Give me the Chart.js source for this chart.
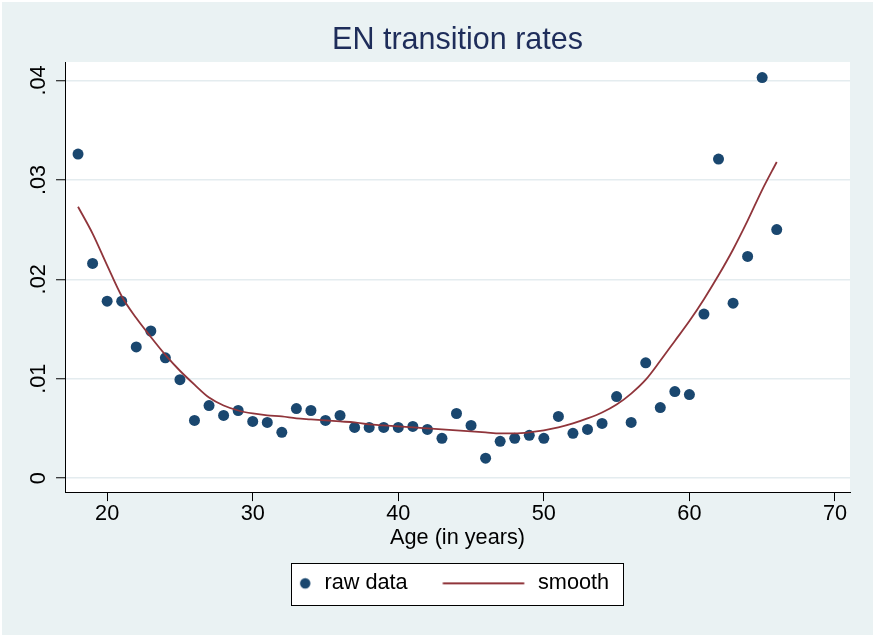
<!DOCTYPE html>
<html>
<head>
<meta charset="utf-8">
<script src="https://cdn.jsdelivr.net/npm/chart.js@4.4.1/dist/chart.umd.min.js"></script>
<style>
html, body { margin: 0; padding: 0; background: #ffffff; }
#wrap { position: absolute; left: 2px; top: 2px; width: 871px; height: 633px; }
</style>
</head>
<body>
<div id="wrap"><canvas id="c" width="871" height="633"></canvas></div>
<script>
// ---------------- data ----------------
const ages = [18,19,20,21,22,23,24,25,26,27,28,29,30,31,32,33,34,35,36,37,38,39,40,41,42,
              43,44,45,46,47,48,49,50,51,52,53,54,55,56,57,58,59,60,61,62,63,64,65,66];
const rawRates = [0.0326,0.0216,0.0178,0.0178,0.0132,0.0148,0.0121,0.0099,0.0058,0.0073,
                  0.0063,0.0068,0.0057,0.0056,0.0046,0.0070,0.0068,0.0058,0.0063,0.0051,
                  0.0051,0.0051,0.0051,0.0052,0.0049,0.0040,0.0065,0.0053,0.0020,0.0037,
                  0.0040,0.0043,0.0040,0.0062,0.0045,0.0049,0.0055,0.0082,0.0056,0.0116,
                  0.0071,0.0087,0.0084,0.0165,0.0321,0.0176,0.0223,0.0403,0.0250];
const smoothRates = [0.0273,0.0246,0.0214,0.0183,0.0161,0.0142,0.0124,0.0108,0.0094,0.0081,
                     0.0073,0.0068,0.0065,0.0063,0.0062,0.0060,0.0059,0.0058,0.0057,0.0056,
                     0.0054,0.0053,0.0052,0.0051,0.0050,0.0049,0.0048,0.0047,0.0046,0.0045,
                     0.0045,0.0046,0.0048,0.0051,0.0055,0.0060,0.0066,0.0074,0.0085,0.0099,
                     0.0118,0.0138,0.0158,0.0180,0.0204,0.0230,0.0259,0.0290,0.0318];
const xTickValues = [20, 30, 40, 50, 60, 70];
const yTickValues = [0, 0.01, 0.02, 0.03, 0.04];
const yTickLabels = ['0', '.01', '.02', '.03', '.04'];
const seriesNames = ['raw data', 'smooth'];
const titleText = 'EN transition rates';
const xTitleText = 'Age (in years)';

// ---------------- style ----------------
const FONT = "'Liberation Sans', Arial, Helvetica, sans-serif";
const BG = '#eaf2f3';
const RAW_COLOR = '#1a476f';
const SMOOTH_COLOR = '#90353b';
const GRID_COLOR = '#e4ecef';
const FS = 21.7;
const LEG_PAD = 10;
const LEG_BOX_W = 109.5;
const LEG_T = LEG_BOX_W + FS / 2;
const DOT_GAP = 19, DOT_R = 5.2;
const LINE_START = 95, LINE_END = 13.5;

function makeDotImage() {
  const c = document.createElement('canvas');
  c.width = Math.ceil(LEG_BOX_W); c.height = 14;
  const g = c.getContext('2d');
  g.fillStyle = RAW_COLOR;
  g.beginPath(); g.arc(LEG_T - DOT_GAP, 7, DOT_R, 0, Math.PI * 2); g.fill();
  return c;
}
function makeLineImage() {
  const c = document.createElement('canvas');
  c.width = Math.ceil(LEG_BOX_W); c.height = 14;
  const g = c.getContext('2d');
  g.strokeStyle = SMOOTH_COLOR; g.lineWidth = 2;
  g.beginPath(); g.moveTo(LEG_T - LINE_START, 7); g.lineTo(LEG_T - LINE_END, 7); g.stroke();
  return c;
}
const legendImages = [makeDotImage(), makeLineImage()];

const rawPts = ages.map((a, i) => ({ x: a, y: rawRates[i] }));
const smoothPts = ages.map((a, i) => ({ x: a, y: smoothRates[i] }));

const stataFrame = {
  id: 'stataFrame',
  afterLayout(chart) {
    const lg = chart.legend;
    if (!lg || !lg.legendItems) return;
    const ctx = chart.ctx;
    ctx.save();
    ctx.font = FS + 'px ' + FONT;
    const tw = lg.legendItems.map(it => ctx.measureText(it.text).width);
    ctx.restore();
    const C = (lg.left + lg.right) / 2;
    const text1 = C - (tw[0] + tw[1] + LEG_PAD) / 2;
    const visL = text1 - DOT_GAP - DOT_R;
    const visR = text1 + tw[0] + LEG_PAD + LEG_T + tw[1];
    const frameL = visL - 9.3, frameR = visR + 14;
    const ca = chart.chartArea;
    const dx = ((ca.left + ca.right) / 2 - 0.5) - (frameL + frameR) / 2;
    lg.left += dx; lg.right += dx;
    chart.$legFrame = { left: frameL + dx, right: frameR + dx, top: lg.top, bottom: lg.bottom };
  },
  beforeDraw(chart) {
    const { ctx, width, height, chartArea: ca } = chart;
    ctx.save();
    ctx.fillStyle = BG;
    ctx.fillRect(0, 0, width, height);
    ctx.fillStyle = '#ffffff';
    ctx.fillRect(ca.left, ca.top, ca.right - ca.left, ca.bottom - ca.top);
    const f = chart.$legFrame;
    if (f) {
      const l = Math.round(f.left), t = Math.round(f.top);
      const w = Math.round(f.right - f.left), h = Math.round(f.bottom - f.top);
      ctx.fillRect(l, t, w, h);
      ctx.strokeStyle = '#000000';
      ctx.lineWidth = 1;
      ctx.strokeRect(l + 0.5, t + 0.5, w, h);
    }
    ctx.restore();
  }
};

new Chart(document.getElementById('c'), {
  type: 'scatter',
  data: {
    datasets: [
      {
        label: seriesNames[0],
        data: rawPts,
        showLine: false,
        pointRadius: 5.5,
        pointHoverRadius: 5.5,
        pointBorderWidth: 0,
        pointBackgroundColor: RAW_COLOR,
        backgroundColor: RAW_COLOR,
        borderColor: RAW_COLOR,
        order: 1
      },
      {
        label: seriesNames[1],
        data: smoothPts,
        showLine: true,
        pointRadius: 0,
        pointHoverRadius: 0,
        borderColor: SMOOTH_COLOR,
        backgroundColor: SMOOTH_COLOR,
        borderWidth: 1.8,
        cubicInterpolationMode: 'monotone',
        fill: false,
        order: 0
      }
    ]
  },
  options: {
    responsive: false,
    maintainAspectRatio: false,
    animation: false,
    devicePixelRatio: 1,
    events: [],
    layout: { padding: { left: 24, right: 23, top: 0, bottom: 30.8 } },
    scales: {
      x: {
        type: 'linear',
        min: 17.107,
        max: 71.033,
        afterBuildTicks: (s) => { s.ticks = xTickValues.map(v => ({ value: v })); },
        grid: { drawOnChartArea: false, drawTicks: true, tickLength: 9, tickColor: '#000000', tickWidth: 1 },
        border: { display: true, color: '#000000', width: 1 },
        ticks: {
          color: '#000000', padding: 2, maxRotation: 0, minRotation: 0, autoSkip: false,
          font: { family: FONT, size: FS, lineHeight: 1.0 },
          callback: (v) => String(v)
        },
        title: {
          display: true, text: xTitleText, color: '#000000',
          font: { family: FONT, size: FS, lineHeight: 1.0 },
          padding: { top: 0, bottom: 14 }
        }
      },
      y: {
        type: 'linear',
        min: -0.001409,
        max: 0.041862,
        afterBuildTicks: (s) => { s.ticks = yTickValues.map(v => ({ value: v })); },
        grid: { color: GRID_COLOR, lineWidth: 1.5, drawTicks: true, tickLength: 9, tickColor: '#000000', tickWidth: 1 },
        border: { display: true, color: '#000000', width: 1 },
        ticks: {
          color: '#000000', padding: 2, minRotation: 90, maxRotation: 90, crossAlign: 'center', autoSkip: false,
          font: { family: FONT, size: FS, lineHeight: 1.2 },
          callback: (v, i) => yTickLabels[i]
        }
      }
    },
    plugins: {
      tooltip: { enabled: false },
      title: {
        display: true, text: titleText, color: '#1e2d5a', fullSize: false,
        font: { family: FONT, size: 30.5, weight: 'normal', lineHeight: 1.2 },
        padding: { top: 20, bottom: 3.4 }
      },
      legend: {
        display: true, position: 'bottom', fullSize: false,
        labels: {
          usePointStyle: true, pointStyleWidth: LEG_BOX_W, padding: LEG_PAD, color: '#000000',
          font: { family: FONT, size: FS },
          generateLabels(chart) {
            const items = Chart.defaults.plugins.legend.labels.generateLabels(chart);
            items.sort((a, b) => a.datasetIndex - b.datasetIndex);
            items.forEach(it => { it.pointStyle = legendImages[it.datasetIndex]; });
            return items;
          }
        }
      }
    }
  },
  plugins: [stataFrame]
});
</script>
</body>
</html>
